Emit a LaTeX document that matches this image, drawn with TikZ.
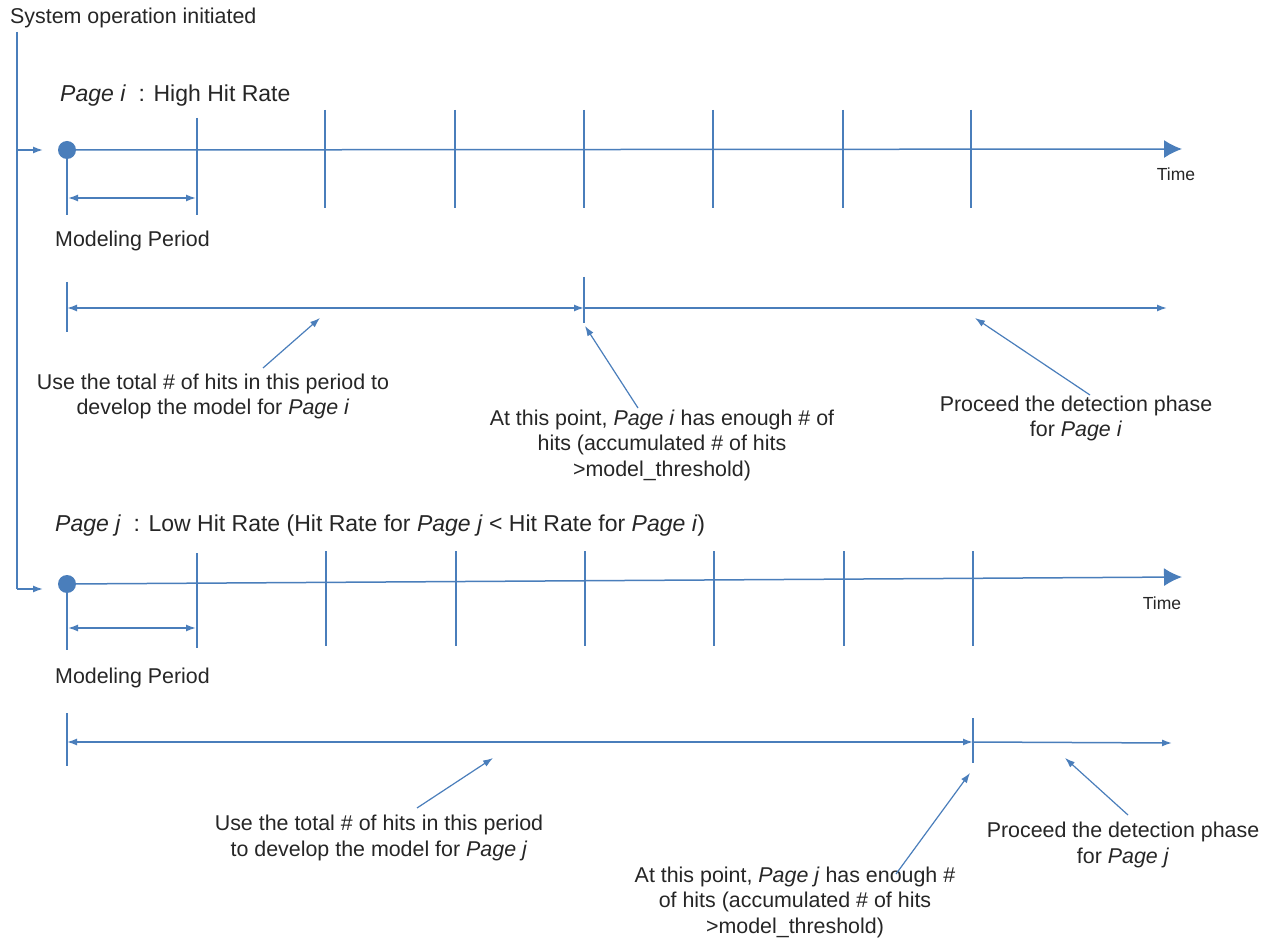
\documentclass[tikz,border=0pt]{standalone}
\usepackage{fontspec}
\setmainfont{Liberation Sans}
\usetikzlibrary{arrows.meta}
\definecolor{axisblue}{HTML}{4A7EBB}
\definecolor{inktext}{HTML}{262626}
\begin{document}
\begin{tikzpicture}[x=1pt,y=-1pt,
  rule/.style={draw=axisblue, line width=1.5pt},
  pointer/.style={draw=axisblue, line width=1.2pt, -{Latex[length=10pt,width=7pt]}},
  tipR/.style={-{Latex[length=10pt,width=7pt]}},
  tipLR/.style={{Latex[length=10pt,width=7pt]}-{Latex[length=10pt,width=7pt]}},
  axis/.style={-{Latex[length=18pt,width=18pt]}},
  dot/.style={circle, fill=axisblue, inner sep=0pt, minimum size=18pt},
  body/.style={text=inktext, font=\fontsize{21.4}{25.3}\selectfont, inner sep=0pt, align=center},
  head/.style={text=inktext, font=\fontsize{23}{28}\selectfont, inner sep=0pt},
  small/.style={text=inktext, font=\fontsize{17.5}{21}\selectfont, inner sep=0pt},
]
\useasboundingbox (0,0) rectangle (1272,949);
\fill[white] (0,0) rectangle (1272,949);

% ---------- start of operation and the trunk feeding both pages ----------
\node[body, anchor=base west] (sys) at (10,24) {System operation initiated};
\coordinate (trunkTop) at (17,32);
\coordinate (trunkI) at (17,150);
\coordinate (trunkJ) at (17,589);
\coordinate (feedI) at (43,150);
\coordinate (feedJ) at (43,589);
\draw[rule] (trunkTop) -- (trunkJ);
\draw[rule, tipR] (trunkI) -- (feedI);
\draw[rule, tipR] (trunkJ) -- (feedJ);

% ================= Page i =================
\node[head, anchor=base west] (headI) at (60,102) {\textit{Page i}\ \ : High Hit Rate};

% time axis
\node[dot] (startI) at (67,150) {};
\coordinate (endI) at (1182,149);
\draw[rule, axis] (startI.center) -- (endI);
\node[small, anchor=base] (timeI) at (1176,181) {Time};
\draw[rule] (67,150) -- (67,215);
\draw[rule] (197,118) -- (197,215);
\foreach \x in {325,455,584,713,843,971} \draw[rule] (\x,110) -- (\x,208);

% modelling period
\coordinate (mpIa) at (68,198);
\coordinate (mpIb) at (196,198);
\draw[rule, tipLR] (mpIa) -- (mpIb);
\node[body, anchor=base west] (modI) at (55,247) {Modeling Period};

% phases
\coordinate (phIa) at (67,308);
\coordinate (phIb) at (584,308);
\coordinate (phIc) at (1167,308);
\draw[rule] (67,282) -- (67,332);
\draw[rule] (584,277) -- (584,323);
\draw[rule, tipLR] (phIa) -- (phIb);
\draw[rule, tipR] (phIb) -- (phIc);

% notes (base anchor sits on the last line)
\node[body, anchor=base] (useI) at (213,415)
  {Use the total \# of hits in this period to\\develop the model for \textit{Page i}};
\node[body, anchor=base] (ptI) at (662,476)
  {At this point, \textit{Page i} has enough \# of\\hits (accumulated \# of hits\\>model\_threshold)};
\node[body, anchor=base] (procI) at (1076,437)
  {Proceed the detection phase\\for \textit{Page i}};
\coordinate (useIs) at (263,368);  \coordinate (useIt) at (320,318);
\coordinate (ptIs) at (638,408);   \coordinate (ptIt) at (585,326);
\coordinate (procIs) at (1090,395); \coordinate (procIt) at (975,318);
\draw[pointer] (useIs) -- (useIt);
\draw[pointer] (ptIs) -- (ptIt);
\draw[pointer] (procIs) -- (procIt);

% ================= Page j =================
\node[head, anchor=base west] (headJ) at (55,531)
  {\textit{Page j}\ \ : Low Hit Rate (Hit Rate for \textit{Page j} < Hit Rate for \textit{Page i})};

% time axis
\node[dot] (startJ) at (67,584) {};
\coordinate (endJ) at (1182,577);
\draw[rule, axis] (startJ.center) -- (endJ);
\node[small, anchor=base] (timeJ) at (1162,609) {Time};
\draw[rule] (67,584) -- (67,650);
\draw[rule] (197,553) -- (197,648);
\foreach \x in {326,456,585,714,844,973} \draw[rule] (\x,551) -- (\x,646);

% modelling period
\coordinate (mpJa) at (68,628);
\coordinate (mpJb) at (196,628);
\draw[rule, tipLR] (mpJa) -- (mpJb);
\node[body, anchor=base west] (modJ) at (55,683) {Modeling Period};

% phases
\coordinate (phJa) at (67,742);
\coordinate (phJb) at (973,742);
\coordinate (phJc) at (1172,743);
\draw[rule] (67,713) -- (67,766);
\draw[rule] (973,718) -- (973,763);
\draw[rule, tipLR] (phJa) -- (phJb);
\draw[rule, tipR] (phJb) -- (phJc);

% notes
\node[body, anchor=base] (useJ) at (379,856)
  {Use the total \# of hits in this period\\to develop the model for \textit{Page j}};
\node[body, anchor=base] (ptJ) at (795,933)
  {At this point, \textit{Page j} has enough \#\\of hits (accumulated \# of hits\\>model\_threshold)};
\node[body, anchor=base] (procJ) at (1123,863)
  {Proceed the detection phase\\for \textit{Page j}};
\coordinate (useJs) at (417,808);  \coordinate (useJt) at (493,758);
\coordinate (ptJs) at (896,874);   \coordinate (ptJt) at (970,773);
\coordinate (procJs) at (1128,815); \coordinate (procJt) at (1065,758);
\draw[pointer] (useJs) -- (useJt);
\draw[pointer] (ptJs) -- (ptJt);
\draw[pointer] (procJs) -- (procJt);
\end{tikzpicture}
\end{document}
